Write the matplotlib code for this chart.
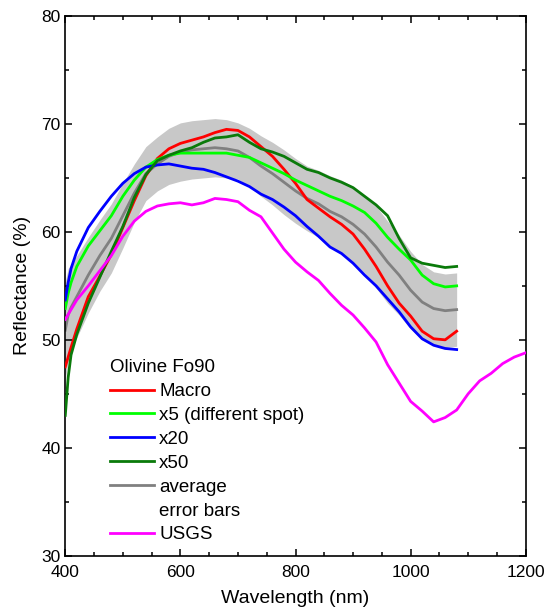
import matplotlib
matplotlib.use('Agg')
import matplotlib.pyplot as plt
from matplotlib.lines import Line2D
import numpy as np

plt.rcParams['font.family'] = ['Liberation Sans', 'DejaVu Sans']

# wavelength grid of the lab spectra (nm)
wavelength = [400, 405, 410, 420, 440, 460, 480, 500, 520, 540, 560, 580, 600,
              620, 640, 660, 680, 700, 720, 740, 760, 780, 800, 820, 840, 860,
              880, 900, 920, 940, 960, 980, 1000, 1020, 1040, 1060, 1080]

macro = [47.5, 48.4, 49.3, 51.0, 54.0, 55.9, 57.9, 60.4, 62.9, 65.2, 66.8, 67.7, 68.2,
         68.5, 68.8, 69.2, 69.5, 69.4, 68.8, 67.9, 67.0, 65.8, 64.5, 63.0, 62.2, 61.4,
         60.7, 59.8, 58.4, 56.8, 55.0, 53.4, 52.2, 50.8, 50.1, 50.0, 50.8]
x5 = [52.9, 54.3, 55.3, 56.8, 58.7, 60.1, 61.5, 63.3, 64.8, 66.0, 66.7, 67.1, 67.3,
      67.3, 67.3, 67.3, 67.3, 67.1, 66.9, 66.4, 65.9, 65.4, 64.8, 64.3, 63.8, 63.3,
      62.9, 62.4, 61.8, 60.8, 59.5, 58.4, 57.4, 56.0, 55.2, 54.9, 55.0]
x20 = [53.7, 55.3, 56.6, 58.2, 60.4, 61.9, 63.3, 64.5, 65.4, 66.0, 66.2, 66.3, 66.1,
       65.9, 65.8, 65.5, 65.1, 64.7, 64.2, 63.5, 63.0, 62.3, 61.5, 60.5, 59.6, 58.6,
       58.0, 57.1, 56.0, 55.0, 53.8, 52.6, 51.2, 50.1, 49.5, 49.2, 49.1]
x50 = [43.0, 46.5, 48.6, 50.5, 53.4, 55.8, 58.2, 60.5, 63.2, 65.3, 66.6, 67.1, 67.5,
       67.8, 68.3, 68.7, 68.8, 69.0, 68.3, 67.7, 67.4, 67.0, 66.4, 65.8, 65.5, 65.0,
       64.6, 64.1, 63.3, 62.5, 61.5, 59.4, 57.6, 57.1, 56.9, 56.7, 56.8]
average = [50.9, 52.3, 53.0, 54.0, 56.0, 57.8, 59.4, 61.5, 63.6, 65.4, 66.3, 67.0, 67.4,
           67.6, 67.7, 67.8, 67.7, 67.5, 66.9, 66.1, 65.4, 64.6, 63.8, 63.1, 62.6, 61.9,
           61.4, 60.7, 59.8, 58.6, 57.2, 56.0, 54.6, 53.5, 52.9, 52.7, 52.8]
error = [4.5, 4.3, 4.0, 3.8, 3.5, 3.3, 3.2, 3.0, 2.7, 2.5, 2.5, 2.6, 2.7,
         2.7, 2.7, 2.7, 2.7, 2.6, 2.7, 2.8, 2.9, 3.0, 3.0, 3.0, 3.1, 3.3,
         3.4, 3.5, 3.6, 3.8, 3.8, 3.7, 3.6, 3.5, 3.4, 3.4, 3.4]

# USGS library spectrum
usgs_wl = [400, 420, 440, 460, 480, 500, 520, 540, 560, 580, 600, 620, 640, 660,
           680, 700, 720, 740, 760, 780, 800, 820, 840, 860, 880, 900, 920, 940,
           960, 980, 1000, 1020, 1040, 1060, 1080, 1100, 1120, 1140, 1160, 1180, 1200]
usgs = [51.9, 53.7, 55.0, 56.4, 57.8, 59.6, 61.0, 61.9, 62.4, 62.6, 62.7, 62.5, 62.7, 63.1,
        63.0, 62.8, 62.0, 61.4, 59.9, 58.4, 57.2, 56.3, 55.5, 54.3, 53.2, 52.3, 51.1, 49.8,
        47.7, 46.0, 44.3, 43.4, 42.4, 42.8, 43.5, 45.0, 46.2, 46.9, 47.8, 48.4, 48.8]

fig = plt.figure(figsize=(5.44, 6.07), dpi=100)
ax = fig.add_axes([0.120, 0.0845, 0.8464, 0.8891])

wl = np.array(wavelength)
avg = np.array(average)
err = np.array(error)
ax.fill_between(wl, avg - err, avg + err, color='#c8c8c8', lw=0, zorder=1)

lw = 2.0
ax.plot(wl, macro, color='#ff0000', lw=lw, zorder=3)
ax.plot(wl, x5, color='#00ff00', lw=lw, zorder=3)
ax.plot(wl, x20, color='#0000ff', lw=lw, zorder=3)
ax.plot(wl, x50, color='#0a7a0a', lw=lw, zorder=3)
ax.plot(wl, avg, color='#808080', lw=lw, zorder=2)
ax.plot(usgs_wl, usgs, color='#ff00ff', lw=lw, zorder=3)

ax.set_xlim(400, 1200)
ax.set_ylim(30, 80)
ax.set_xticks([400, 600, 800, 1000, 1200])
ax.set_xticks(np.arange(400, 1201, 50), minor=True)
ax.set_yticks([30, 40, 50, 60, 70, 80])
ax.set_yticks(np.arange(30, 81, 5), minor=True)
ax.tick_params(which='both', direction='in', top=True, right=True, labelsize=12.5, width=1.1)
ax.tick_params(which='major', length=5)
ax.tick_params(which='minor', length=3)
ax.tick_params(axis='x', which='major', pad=7)
for s in ax.spines.values():
    s.set_linewidth(1.2)
ax.set_xlabel('Wavelength (nm)', fontsize=14, labelpad=7)
ax.set_ylabel('Reflectance (%)', fontsize=14, labelpad=7)

handles = [Line2D([], [], color=c, lw=lw) for c in
           ['#ff0000', '#00ff00', '#0000ff', '#0a7a0a', '#808080', 'none', '#ff00ff']]
labels = ['Macro', 'x5 (different spot)', 'x20', 'x50', 'average', 'error bars', 'USGS']
leg = ax.legend(handles, labels, title='Olivine Fo90', loc='upper left',
                bbox_to_anchor=(0.098, 0.364), frameon=False, fontsize=13.5,
                title_fontsize=13.5, borderpad=0, borderaxespad=0,
                handlelength=2.3, handletextpad=0.3, labelspacing=0.36)
leg._legend_box.align = 'left'

fig.savefig('out.png', dpi=100)
